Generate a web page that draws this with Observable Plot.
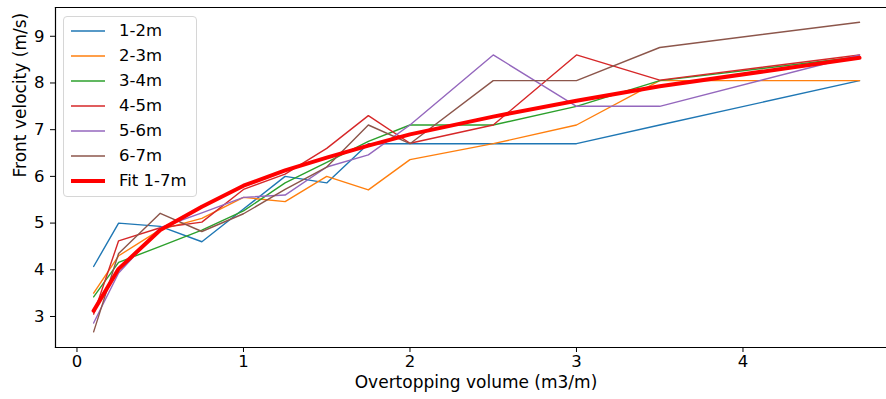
<!DOCTYPE html>
<html>
<head>
<meta charset="utf-8">
<script src="https://cdn.jsdelivr.net/npm/d3@7"></script>
<script src="https://cdn.jsdelivr.net/npm/@observablehq/plot@0.6"></script>
<style>
  html, body { margin: 0; padding: 0; background: #fff; }
  #wrap { position: relative; width: 886px; height: 399px; font-family: "DejaVu Sans", sans-serif; }
  #legend { position: absolute; left: 63px; top: 16px; width: 134px; height: 181px;
            border: 1px solid #d6d6d6; border-radius: 4px; background: rgba(255,255,255,0.8); box-sizing: border-box; }
  .lrow { position: absolute; left: 0; height: 20px; font-size: 16.5px; line-height: 20px; color: #000; }
  .lrow svg { position: absolute; left: 6px; top: 0; }
  .lrow span { position: absolute; left: 55px; top: 0; white-space: nowrap; }
</style>
</head>
<body>
<div id="wrap"></div>
<script>
// Data
const volumes = [0.1, 0.25, 0.5, 0.75, 1.0, 1.25, 1.5, 1.75, 2.0, 2.5, 3.0, 3.5, 4.7];
const seriesNames = ["1-2m", "2-3m", "3-4m", "4-5m", "5-6m", "6-7m"];
const v1_2 = [4.07, 5.0, 4.93, 4.6, 5.3, 6.0, 5.86, 6.7, 6.7, 6.7, 6.7, 7.1, 8.05];
const v2_3 = [3.5, 4.3, 4.86, 5.1, 5.55, 5.46, 6.0, 5.71, 6.36, 6.7, 7.1, 8.05, 8.05];
const v3_4 = [3.42, 4.16, 4.5, 4.85, 5.26, 5.86, 6.3, 6.75, 7.1, 7.1, 7.5, 8.05, 8.56];
const v4_5 = [3.05, 4.62, 4.9, 5.02, 5.72, 6.05, 6.6, 7.3, 6.71, 7.1, 8.6, 8.06, 8.6];
const v5_6 = [2.86, 3.93, 4.9, 5.22, 5.55, 5.6, 6.2, 6.46, 7.1, 8.6, 7.5, 7.5, 8.6];
const v6_7 = [2.67, 4.35, 5.21, 4.82, 5.2, 5.72, 6.2, 7.1, 6.7, 8.05, 8.05, 8.76, 9.3];
const fitName = "Fit 1-7m";
const fitValues = [3.12, 4.02, 4.85, 5.35, 5.8, 6.13, 6.4, 6.66, 6.9, 7.28, 7.62, 7.93, 8.54];
const xTicks = [0, 1, 2, 3, 4];
const yTicks = [3, 4, 5, 6, 7, 8, 9];
const xLabel = "Overtopping volume (m3/m)";
const yLabel = "Front velocity (m/s)";
const seriesColors = ["#1f77b4", "#ff7f0e", "#2ca02c", "#d62728", "#9467bd", "#8c564b"];
const fitColor = "#ff0000";

const seriesValues = [v1_2, v2_3, v3_4, v4_5, v5_6, v6_7];
const rows = [];
seriesNames.forEach((s, i) => volumes.forEach((x, j) => rows.push({s, x, v: seriesValues[i][j]})));
const fitRows = volumes.map((x, j) => ({s: fitName, x, v: fitValues[j]}));

const chart = Plot.plot({
  width: 886,
  height: 399,
  marginTop: 7,
  marginBottom: 52,
  marginLeft: 55,
  marginRight: 0,
  style: {fontFamily: "DejaVu Sans, sans-serif", fontSize: "16.5px", color: "#000", background: "transparent", overflow: "visible"},
  x: {domain: [-0.129, 4.862]},
  y: {domain: [2.336, 9.616]},
  color: {domain: [...seriesNames, fitName], range: [...seriesColors, fitColor]},
  marks: [
    Plot.lineY(rows, {x: "x", y: "v", z: "s", stroke: "s", strokeWidth: 1.4}),
    Plot.lineY(fitRows, {x: "x", y: "v", stroke: "s", strokeWidth: 4}),
    Plot.frame({anchor: "left", stroke: "#000", strokeWidth: 1.2}),
    Plot.frame({anchor: "bottom", stroke: "#000", strokeWidth: 1.2}),
    Plot.frame({anchor: "top", stroke: "#000", strokeWidth: 1.2}),
    Plot.axisX({ticks: xTicks, tickSize: 5, tickPadding: 3, label: null, tickFormat: d => String(d), fontSize: 16.5}),
    Plot.axisY({ticks: yTicks, tickSize: 5, tickPadding: 6, label: null, tickFormat: d => String(d), fontSize: 16.5}),
    Plot.text([xLabel], {frameAnchor: "bottom", text: d => d, dx: 5, dy: 40.5, fontSize: 17, fill: "#000"}),
    Plot.text([yLabel], {frameAnchor: "left", text: d => d, dx: -35, rotate: -90, fontSize: 17, fill: "#000"})
  ]
});

const wrap = document.getElementById("wrap");
wrap.appendChild(chart);

// Legend
const legend = document.createElement("div");
legend.id = "legend";
const entries = [...seriesNames.map((s, i) => ({s, c: seriesColors[i], w: 2})), {s: fitName, c: fitColor, w: 4}];
entries.forEach((e, i) => {
  const row = document.createElement("div");
  row.className = "lrow";
  row.style.top = (4 + i * 25) + "px";
  row.innerHTML = `<svg width="36" height="20"><line x1="1" x2="35" y1="10" y2="10" stroke="${e.c}" stroke-width="${e.w}" stroke-opacity="${e.w > 2 ? 1 : 0.75}"/></svg><span>${e.s}</span>`;
  legend.appendChild(row);
});
wrap.appendChild(legend);
</script>
</body>
</html>
